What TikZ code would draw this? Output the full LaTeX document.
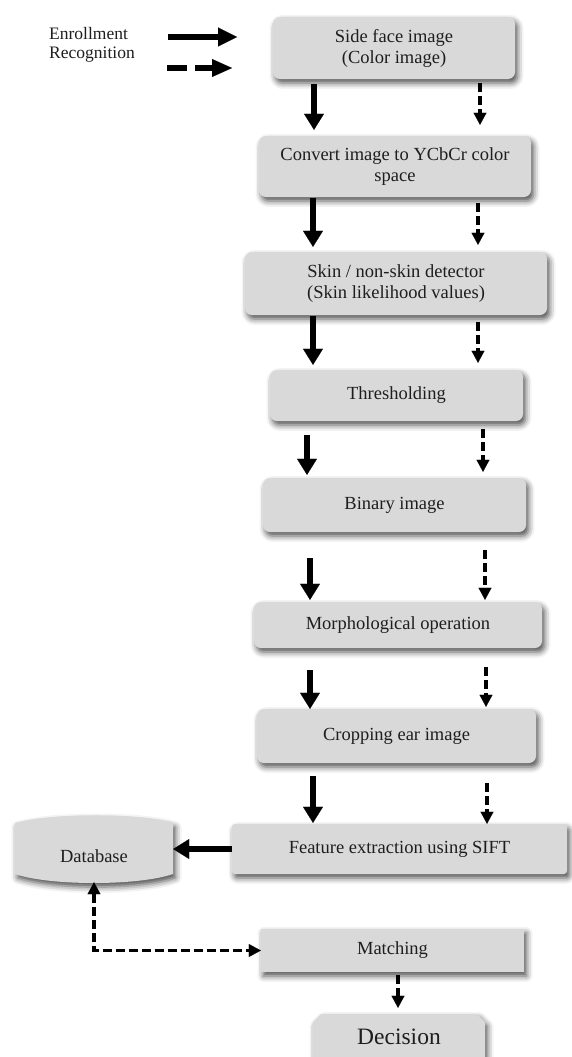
\documentclass[tikz,border=0pt]{standalone}
\usepackage{fontspec}
\setmainfont{Liberation Serif}
\usetikzlibrary{arrows.meta,calc,shadows.blur}
\definecolor{boxgray}{RGB}{217,217,217}
\definecolor{txtc}{RGB}{30,30,30}
\newcommand{\vlnk}[6]{%
  \coordinate (vx) at (#4,0);
  \draw[#1] ($(#2.south -| vx)+(0,#5)$) -- ($(#3.north -| vx)+(0,-#6)$);}
\begin{document}
\begin{tikzpicture}[x=1pt,y=-1pt,
  shad/.style={blur shadow={shadow xshift=2.5pt, shadow yshift=-4pt, shadow blur radius=6pt, shadow opacity=70}},
  box/.style={fill=boxgray, rounded corners=7pt, text=txtc, font=\fontsize{18.5}{21}\selectfont, align=center, inner sep=0pt, shad},
  txtnode/.style={text=txtc, font=\fontsize{18.5}{21}\selectfont, inner sep=0pt},
  legtxt/.style={text=txtc, font=\fontsize{17.5}{21}\selectfont, inner sep=0pt, anchor=west},
  solidarr/.style={line width=6pt, -{Triangle[length=16pt,width=20pt,line width=0.1pt,fill=black]}},
  dasharr/.style={line width=3.5pt, dash pattern=on 9pt off 4pt, -{Triangle[length=12pt,width=13pt,line width=0.1pt,fill=black]}},
  dbarr/.style={line width=3.5pt, dash pattern=on 9pt off 4pt, {Triangle[length=12pt,width=13pt,line width=0.1pt,fill=black]}-{Triangle[length=12pt,width=13pt,line width=0.1pt,fill=black]}},
  legsolid/.style={line width=5.5pt, -{Triangle[length=19pt,width=19pt,line width=0.1pt,fill=black]}},
  legdash/.style={line width=6pt, dash pattern=on 20pt off 8pt, -{Triangle[length=20pt,width=18pt,line width=0.1pt,fill=black]}}
]
\useasboundingbox (0,0) rectangle (572,1057);

% legend
\node[legtxt] (len) at (49,34) {Enrollment};
\node[legtxt] (lrec) at (49,55) {Recognition};
\coordinate (ls1) at (168,37);
\coordinate (ls2) at (237,37);
\coordinate (ld1) at (167,68);
\coordinate (ld2) at (232,68);
\draw[legsolid] (ls1) -- (ls2);
\draw[legdash] (ld1) -- (ld2);

% process boxes
\node[box, minimum width=242pt, minimum height=62pt] (b1) at (394,48) {Side face image\\(Color image)};
\node[box, minimum width=272pt, minimum height=61pt] (b2) at (395,166.5) {Convert image to YCbCr color\\space};
\node[box, minimum width=302pt, minimum height=63pt] (b3) at (396,283.5) {Skin / non-skin detector\\(Skin likelihood values)};
\node[box, minimum width=253pt, minimum height=51pt] (b4) at (396.5,395.5) {Thresholding};
\node[box, minimum width=263pt, minimum height=54pt] (b5) at (394.5,505) {Binary image};
\node[box, minimum width=288pt, minimum height=46pt] (b6) at (398,625) {Morphological operation};
\node[box, minimum width=279pt, minimum height=54pt] (b7) at (396.5,736) {Cropping ear image};
\node[box, rounded corners=3pt, minimum width=335pt, minimum height=50pt] (b8) at (399.5,849) {Feature extraction using SIFT};
\node[box, sharp corners, minimum width=263pt, minimum height=43pt] (mt) at (392.5,950.5) {Matching};

% database
\fill[boxgray, shad] (15,823) .. controls (50,813) and (138,813) .. (173,823) -- (173,874) .. controls (138,886) and (50,886) .. (15,874) -- cycle;
\node[minimum width=158pt, minimum height=65pt, inner sep=0pt] (db) at (94,849.5) {};
\node[txtnode] (dbt) at (94,856) {Database};

% decision
\fill[boxgray, shad] (313,1070) -- (313,1022) -- (321,1014) -- (477,1014) -- (485,1022) -- (485,1070) -- cycle;
\node[minimum width=172pt, minimum height=56pt, inner sep=0pt] (dec) at (399,1042) {};
\node[text=txtc, font=\fontsize{23.5}{26}\selectfont, inner sep=0pt] (dect) at (399,1037) {Decision};

% connectors
\vlnk{solidarr}{b1}{b2}{314}{5}{6}
\vlnk{dasharr}{b1}{b2}{480}{4}{11}
\vlnk{solidarr}{b2}{b3}{313}{1}{5}
\vlnk{dasharr}{b2}{b3}{478}{6}{7}
\vlnk{solidarr}{b3}{b4}{313}{1}{5}
\vlnk{dasharr}{b3}{b4}{478}{7}{7}
\vlnk{solidarr}{b4}{b5}{307}{14}{3}
\vlnk{dasharr}{b4}{b5}{483}{8}{6}
\vlnk{solidarr}{b5}{b6}{310}{26}{2}
\vlnk{dasharr}{b5}{b6}{485}{18}{2}
\vlnk{solidarr}{b6}{b7}{310}{22}{0}
\vlnk{dasharr}{b6}{b7}{486}{19}{2}
\vlnk{solidarr}{b7}{b8}{313}{13}{1}
\vlnk{dasharr}{b7}{b8}{487}{20}{0}
\vlnk{dasharr}{mt}{dec}{398}{3}{6}

\draw[solidarr] (b8.west) -- (b8.west -| db.east);
\draw[dbarr] (db.south) |- (mt.west);
\end{tikzpicture}
\end{document}
